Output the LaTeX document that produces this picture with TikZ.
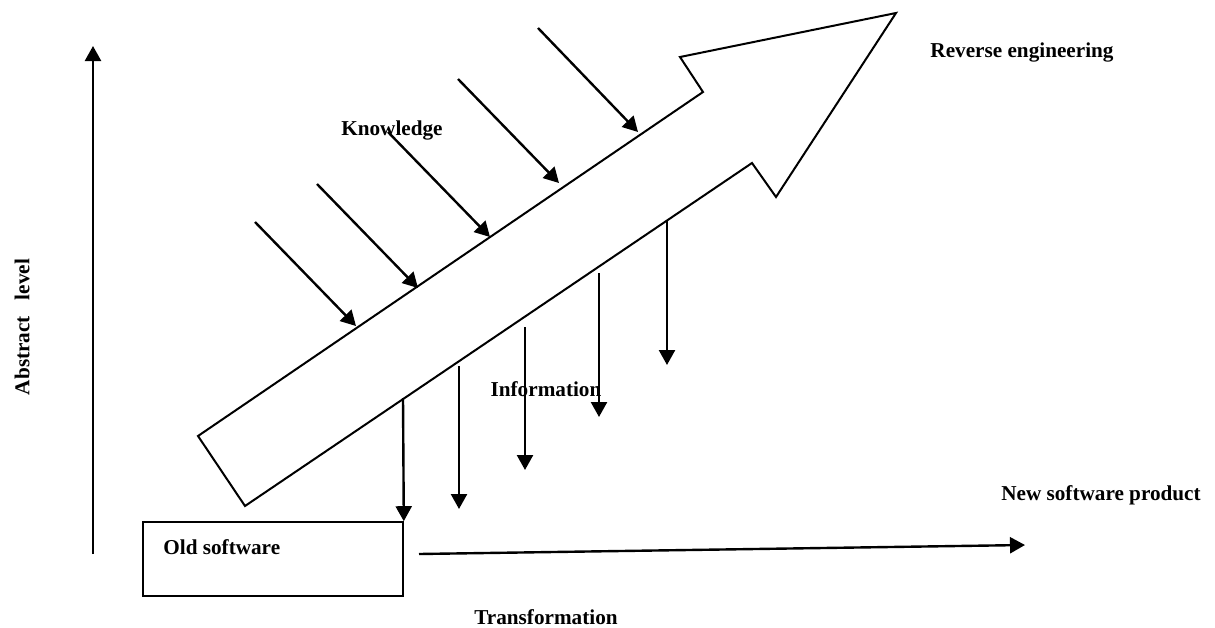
\documentclass[tikz,border=0pt]{standalone}
\usepackage{fontspec}
\setmainfont{Liberation Serif}
\usetikzlibrary{arrows.meta}
\begin{document}
\begin{tikzpicture}[x=0.5pt,y=-0.5pt,
  lbl/.style={font=\fontsize{10.6}{12}\selectfont\bfseries, inner sep=0pt},
  flow/.style={line width=1.2pt, -{Triangle[length=7.5pt,width=8pt]}},
  outline/.style={line width=1pt, line join=miter}]
\useasboundingbox (0,0) rectangle (1215,627);
% big arrow
\draw[outline] (198,436) -- (703,92) -- (680,57) -- (896,13) -- (776,197) -- (752,163) -- (245,506) -- cycle;
% vertical axis
\coordinate (ax0) at (93,554);
\coordinate (ax1) at (93,46);
\draw[flow] (ax0) -- (ax1);
\node[lbl, rotate=90] (abs) at (22,327) {Abstract\ \ \ level};
% old software box
\node[draw, line width=0.8pt, minimum width=130pt, minimum height=37pt, inner sep=0pt] (old) at (273,559) {};
\node[lbl, anchor=west] (oldt) at (163,547) {Old software};
% knowledge arrows
\foreach \i/\sx/\sy/\ex/\ey in {1/255/222/356/326, 2/317/184/418/288, 3/388/132/490/237, 4/458/79/559/183, 5/538/28/638/132}{
  \coordinate (ks\i) at (\sx,\sy);
  \coordinate (ke\i) at (\ex,\ey);
  \draw[flow] (ks\i) -- (ke\i);
}
% information arrows
\foreach \i/\x/\sy/\ey in {2/459/366/509, 3/525/327/470, 4/599/273/417, 5/667/220/365}{
  \coordinate (is\i) at (\x,\sy);
  \coordinate (ie\i) at (\x,\ey);
  \draw[flow] (is\i) -- (ie\i);
}
\coordinate (is1) at (403,398);
\draw[flow] (is1) -- (old.north east);
% transformation arrow
\coordinate (t0) at (419,554);
\coordinate (t1) at (1025,545);
\draw[flow] (t0) -- (t1);
% labels
\node[lbl] (know) at (392,130) {Knowledge};
\node[lbl] (info) at (546,389) {Information};
\node[lbl] (rev) at (1022,52) {Reverse engineering};
\node[lbl] (new) at (1101,495) {New software product};
\node[lbl] (trans) at (546,617) {Transformation};
\end{tikzpicture}
\end{document}
